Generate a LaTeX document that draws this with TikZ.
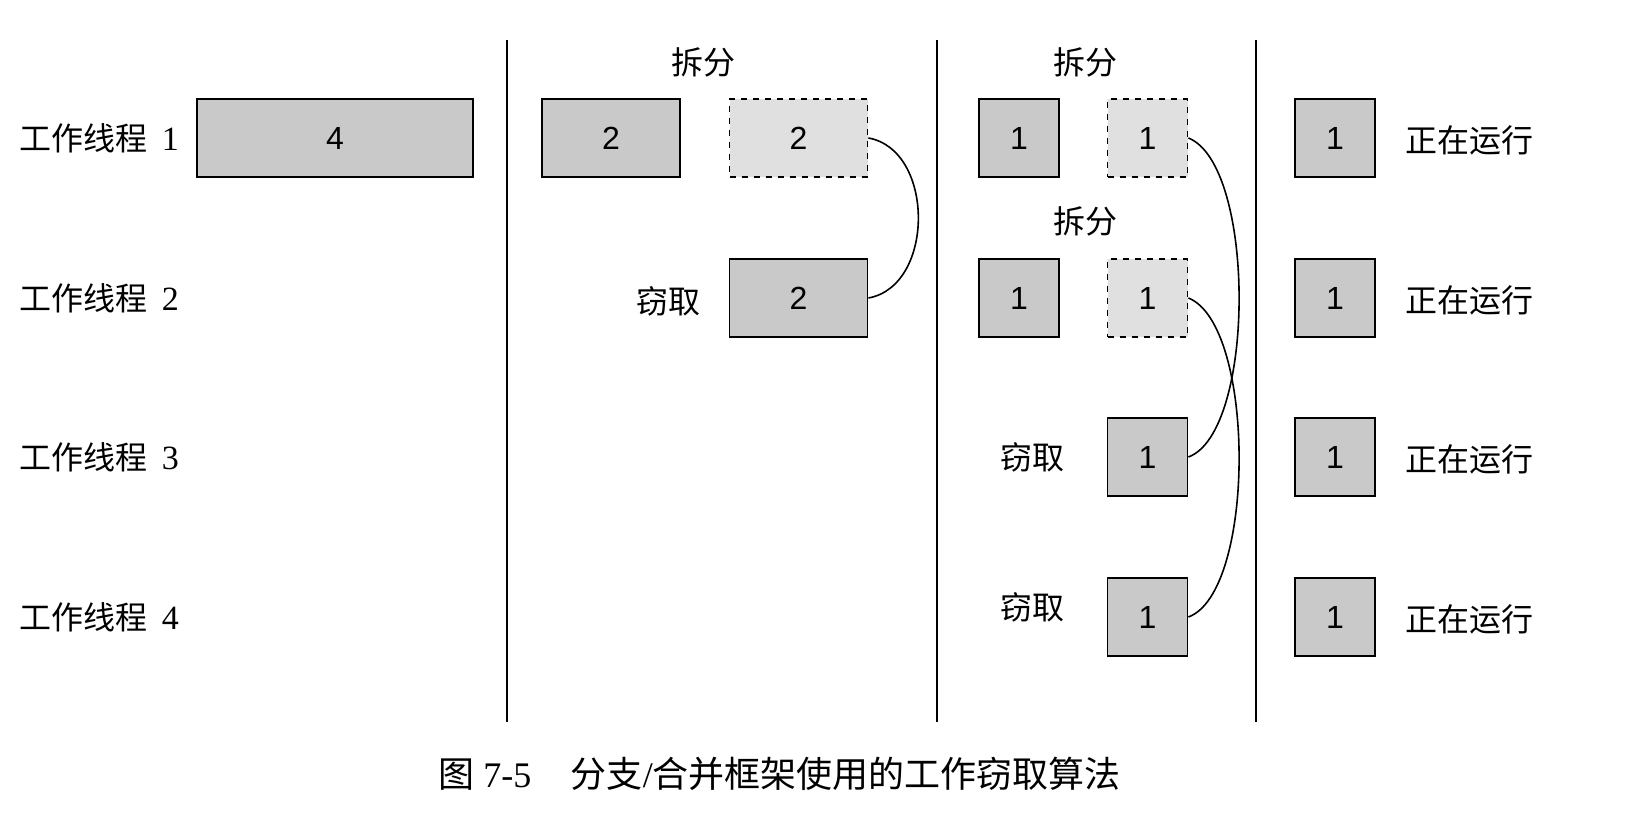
\documentclass[tikz,border=0pt]{standalone}
\usepackage{fontspec}
\setmainfont{Liberation Serif}
\newfontfamily\cjk{Noto Sans CJK SC}
\newfontfamily\boxfont{Liberation Sans}
\begin{document}
\begin{tikzpicture}[x=0.5pt,y=-0.5pt,
  task/.style={draw=black,line width=0.9pt,fill=black!21,minimum height=38.75pt,inner sep=0pt,font=\boxfont\fontsize{16}{16}\selectfont},
  ghost/.style={task,dashed,fill=black!12},
  wide/.style={minimum width=138pt},
  mid/.style={minimum width=69pt},
  small/.style={minimum width=40pt},
  lbl/.style={inner sep=0pt,font=\cjk\fontsize{16}{16}\selectfont},
  sep/.style={line width=1pt},
  steal/.style={line width=0.8pt}]
\useasboundingbox (0,0) rectangle (1628,833);
% separators
\coordinate (s1t) at (507,40); \coordinate (s1b) at (507,722);
\coordinate (s2t) at (937,40); \coordinate (s2b) at (937,722);
\coordinate (s3t) at (1256,40); \coordinate (s3b) at (1256,722);
\draw[sep] (s1t) -- (s1b);
\draw[sep] (s2t) -- (s2b);
\draw[sep] (s3t) -- (s3b);
% thread labels
\foreach \i/\y in {1/138,2/298,3/457,4/617}{
  \node[lbl,anchor=west] (t\i) at (19,\y) {工作线程\hspace{0.45em}{\rmfamily\fontsize{17}{17}\selectfont\i}};
}
% column 1
\node[task,wide] (a1) at (335,138) {4};
% column 2
\node[task,mid] (b1) at (611,138) {2};
\node[ghost,mid] (b2) at (798.5,138) {2};
\node[task,mid] (b3) at (798.5,298) {2};
\node[lbl] (bsplit) at (703,62) {拆分};
\node[lbl] (bsteal) at (668,301) {窃取};
\draw[steal] (b2.east) .. controls (935,150) and (935,286) .. (b3.east);
% column 3
\node[task,small] (c1) at (1019,138) {1};
\node[ghost,small] (c2) at (1147.5,138) {1};
\node[task,small] (c3) at (1019,298) {1};
\node[ghost,small] (c4) at (1147.5,298) {1};
\node[task,small] (c5) at (1147.5,457) {1};
\node[task,small] (c6) at (1147.5,617) {1};
\node[lbl] (csplit1) at (1085,62) {拆分};
\node[lbl] (csplit2) at (1085,221) {拆分};
\node[lbl] (csteal1) at (1032,457) {窃取};
\node[lbl] (csteal2) at (1032,607) {窃取};
\draw[steal] (c2.east) .. controls (1256,165) and (1256,432) .. (c5.east);
\draw[steal] (c4.east) .. controls (1256,325) and (1256,592) .. (c6.east);
% column 4
\foreach \i/\y in {1/138,2/298,3/457,4/617}{
  \node[task,small] (d\i) at (1335,\y) {1};
  \node[lbl,anchor=west] (r\i) at (1405,\y+2) {正在运行};
}
% caption
\node[inner sep=0pt,anchor=west] (cap) at (438,774) {\fontsize{18}{18}\selectfont{\cjk 图}\ 7-5\hspace{1.1em}{\cjk 分支}/{\cjk 合并框架使用的工作窃取算法}};
\end{tikzpicture}
\end{document}
